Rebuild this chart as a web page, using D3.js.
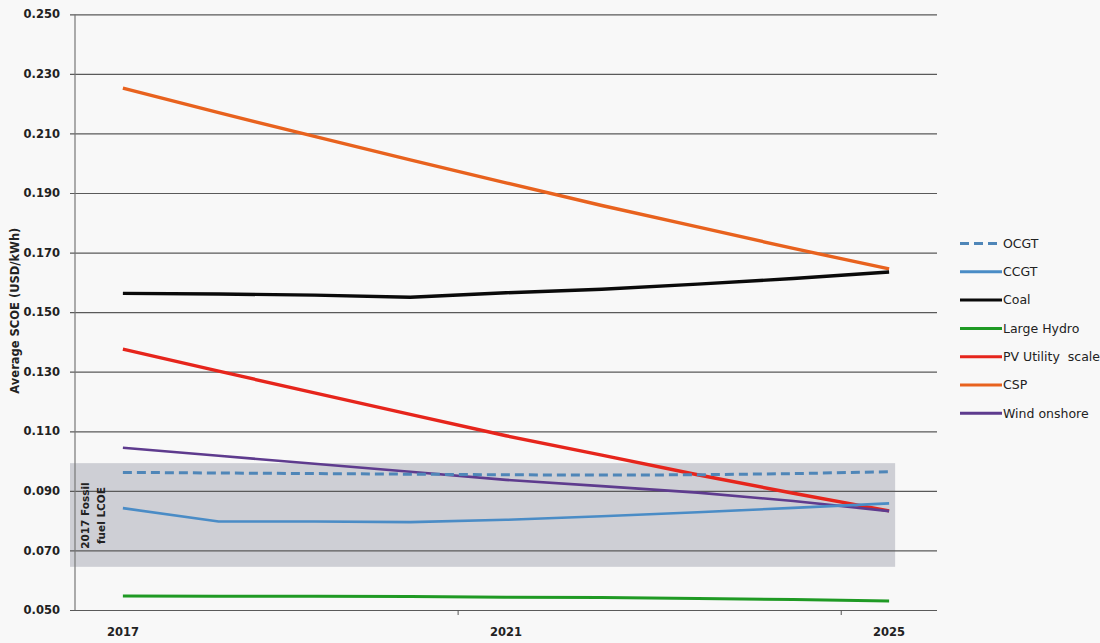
<!DOCTYPE html>
<html>
<head>
<meta charset="utf-8">
<script src="https://cdn.jsdelivr.net/npm/d3@7"></script>
<style>
  html, body { margin: 0; padding: 0; background: #f8f8f8; }
  svg { display: block; }
</style>
</head>
<body>
<svg id="chart" width="1100" height="643"></svg>
<script>
// ---- data ----
const years = ["2017","2018","2019","2020","2021","2022","2023","2024","2025"];
const yearLabels = ["2017","2021","2025"];
const yTicks = [0.05,0.07,0.09,0.11,0.13,0.15,0.17,0.19,0.21,0.23,0.25];

const ocgt      = [0.0962,0.0960,0.0958,0.0956,0.0954,0.0953,0.0954,0.0958,0.0964];
const ccgt      = [0.0842,0.0797,0.0797,0.0795,0.0803,0.0815,0.0828,0.0843,0.0858];
const coal      = [0.1563,0.1561,0.1557,0.1550,0.1565,0.1577,0.1594,0.1613,0.1635];
const hydro     = [0.0547,0.0546,0.0546,0.0545,0.0543,0.0542,0.0539,0.0535,0.0530];
const pv        = [0.1376,0.1302,0.1229,0.1157,0.1085,0.1020,0.0954,0.0892,0.0833];
const csp       = [0.2252,0.2170,0.2090,0.2011,0.1934,0.1858,0.1786,0.1714,0.1645];
const wind      = [0.1045,0.1018,0.0991,0.0964,0.0937,0.0916,0.0894,0.0866,0.0832];

const seriesNames = ["OCGT","CCGT","Coal","Large Hydro","PV Utility  scale","CSP","Wind onshore"];
const seriesValues = [ocgt, ccgt, coal, hydro, pv, csp, wind];
const seriesColors = ["#4f86b8","#4a8cc6","#0a0a0a","#1f9a24","#e6251c","#e8621e","#5e3b8e"];
const seriesWidths = [3, 2.6, 3.4, 3, 3.4, 3.4, 2.6];
const seriesDash   = ["9,5", null, null, null, null, null, null];

const fossilBand = [0.0645, 0.0993];
const fossilLabel = ["2017 Fossil", "fuel LCOE"];
const yTitle = "Average SCOE (USD/kWh)";

// ---- layout ----
const svg = d3.select("#chart");
const mLeft = 75, mRight = 937, mTop = 14.3, mBottom = 610;

const x = d3.scaleBand().domain(years).range([mLeft, mRight]).padding(0);
const y = d3.scaleLinear().domain([0.05, 0.25]).range([mBottom, mTop]);
const cx = d => x(d) + x.bandwidth() / 2;

// fossil band
svg.append("rect")
  .attr("x", mLeft - 5)
  .attr("y", y(fossilBand[1]))
  .attr("width", cx("2025") + 6 - (mLeft - 5))
  .attr("height", y(fossilBand[0]) - y(fossilBand[1]))
  .attr("fill", "#c9cad0")
  .attr("opacity", 0.9);

// y axis with gridlines
const yAxis = svg.append("g")
  .attr("transform", `translate(${mLeft - 5},0)`)
  .call(d3.axisLeft(y).tickValues(yTicks).tickFormat(d3.format(".3f"))
        .tickSize(-(mRight - mLeft + 5)).tickPadding(10));
yAxis.select(".domain").remove();
yAxis.selectAll(".tick line").attr("stroke", "#5a5a5a").attr("stroke-width", 1.2);
yAxis.selectAll(".tick text")
  .attr("font-family", "DejaVu Sans, Verdana, sans-serif")
  .attr("font-size", 11.5).attr("font-weight", "bold").attr("fill", "#222");

// left vertical axis line
svg.append("line")
  .attr("x1", mLeft).attr("x2", mLeft)
  .attr("y1", y(0.25)).attr("y2", y(0.05))
  .attr("stroke", "#777").attr("stroke-width", 1.2);

// x axis labels
const xAxis = svg.append("g")
  .attr("transform", `translate(0,${mBottom})`)
  .call(d3.axisBottom(x).tickValues(yearLabels).tickSize(0).tickPadding(18));
xAxis.select(".domain").remove();
xAxis.selectAll(".tick text")
  .attr("font-family", "DejaVu Sans, Verdana, sans-serif")
  .attr("font-size", 11.5).attr("font-weight", "bold").attr("fill", "#222");

// x tick marks at band boundaries of labelled years
svg.selectAll(".xtick").data(yearLabels.slice(1)).enter().append("line")
  .attr("x1", d => x(d)).attr("x2", d => x(d))
  .attr("y1", mBottom).attr("y2", mBottom + 5)
  .attr("stroke", "#555").attr("stroke-width", 1);

// y axis title
svg.append("text")
  .attr("transform", `translate(15,${y(0.1505)}) rotate(-90)`)
  .attr("text-anchor", "middle")
  .attr("dy", "0.35em")
  .attr("font-family", "DejaVu Sans, Verdana, sans-serif")
  .attr("font-size", 11.5).attr("font-weight", "bold").attr("fill", "#222")
  .text(yTitle);

// fossil band label
fossilLabel.forEach((t, i) => {
  svg.append("text")
    .attr("transform", `translate(${89 + i * 16},${y(0.0817)}) rotate(-90)`)
    .attr("text-anchor", "middle")
    .attr("font-family", "DejaVu Sans, Verdana, sans-serif")
    .attr("font-size", 10.5).attr("font-weight", "bold").attr("fill", "#222")
    .text(t);
});

// lines
const line = d3.line().x((d, i) => cx(years[i])).y(d => y(d));
const drawOrder = [5, 2, 4, 6, 0, 1, 3];
drawOrder.forEach(k => {
  svg.append("path")
    .datum(seriesValues[k])
    .attr("d", line)
    .attr("fill", "none")
    .attr("stroke", seriesColors[k])
    .attr("stroke-width", seriesWidths[k])
    .attr("stroke-linejoin", "round")
    .attr("stroke-dasharray", seriesDash[k]);
});

// legend
const lg = svg.append("g");
seriesNames.forEach((name, i) => {
  const ly = 243.5 + i * 28.3;
  lg.append("line")
    .attr("x1", 960).attr("x2", 1002).attr("y1", ly).attr("y2", ly)
    .attr("stroke", seriesColors[i]).attr("stroke-width", 3)
    .attr("stroke-dasharray", seriesDash[i]);
  lg.append("text")
    .attr("x", 1003).attr("y", ly).attr("dy", "0.35em")
    .attr("font-family", "DejaVu Sans, Verdana, sans-serif")
    .attr("font-size", 12.5).attr("fill", "#222")
    .style("white-space", "pre")
    .text(name);
});
</script>
</body>
</html>
